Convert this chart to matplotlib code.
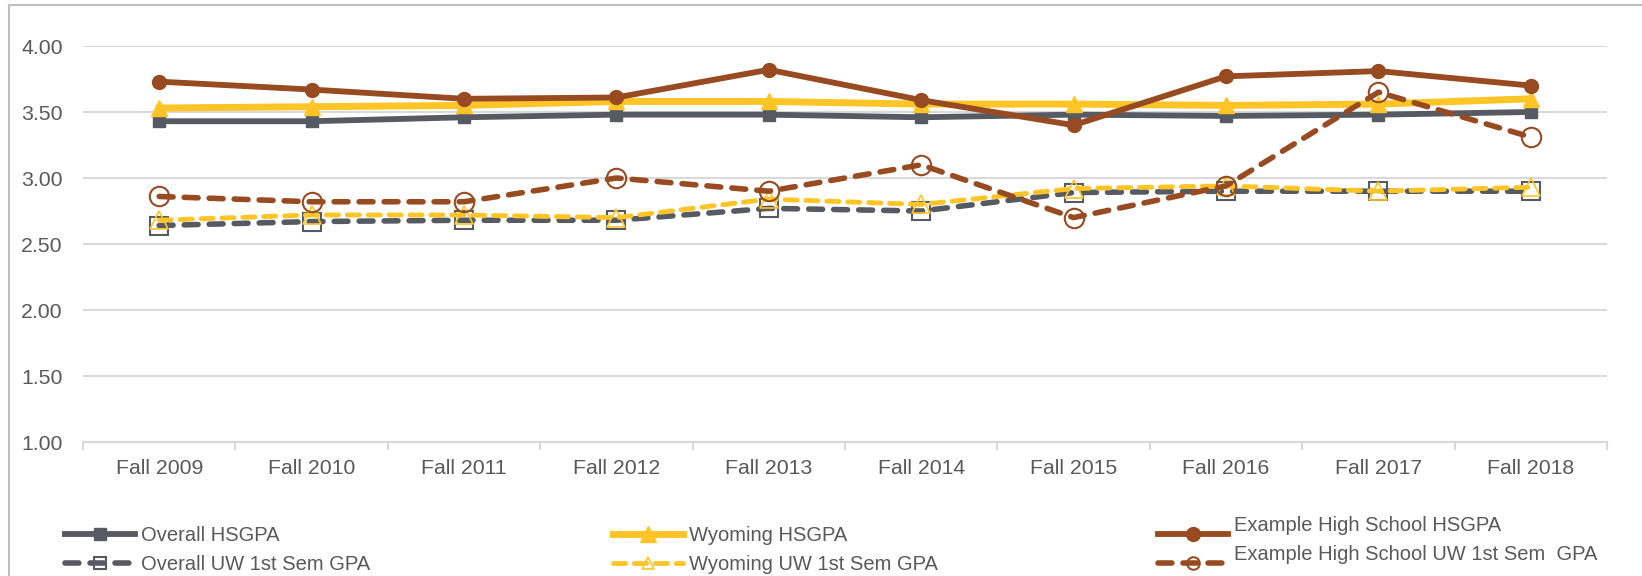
import matplotlib.pyplot as plt
import matplotlib.transforms as mtransforms
from matplotlib.lines import Line2D
import numpy as np

plt.rcParams['font.family'] = ['Liberation Sans', 'DejaVu Sans']

terms = ['Fall 2009', 'Fall 2010', 'Fall 2011', 'Fall 2012', 'Fall 2013',
         'Fall 2014', 'Fall 2015', 'Fall 2016', 'Fall 2017', 'Fall 2018']

overall_hsgpa = [3.43, 3.43, 3.46, 3.48, 3.48, 3.46, 3.48, 3.47, 3.48, 3.50]
wyoming_hsgpa = [3.53, 3.54, 3.55, 3.58, 3.58, 3.56, 3.56, 3.55, 3.56, 3.60]
example_hsgpa = [3.73, 3.67, 3.60, 3.61, 3.82, 3.59, 3.40, 3.77, 3.81, 3.70]
overall_uw = [2.64, 2.67, 2.68, 2.68, 2.77, 2.75, 2.89, 2.90, 2.90, 2.90]
wyoming_uw = [2.68, 2.72, 2.72, 2.70, 2.84, 2.80, 2.92, 2.94, 2.90, 2.93]
example_uw = [2.86, 2.82, 2.82, 3.00, 2.90, 3.10, 2.70, 2.94, 3.65, 3.31]

GRAY = '#565b63'
GOLD = '#ffc425'
BROWN = '#984a20'
TEXT = '#595959'
GRID = '#d9d9d9'

styles = [
    ('Overall HSGPA', overall_hsgpa,
     dict(color=GRAY, lw=4.2, marker='s', ms=9, mfc=GRAY, mec=GRAY)),
    ('Wyoming HSGPA', wyoming_hsgpa,
     dict(color=GOLD, lw=5, marker='^', ms=11, mfc=GOLD, mec=GOLD)),
    ('Example High School HSGPA', example_hsgpa,
     dict(color=BROWN, lw=4.2, marker='o', ms=10, mfc=BROWN, mec=BROWN)),
    ('Overall UW 1st Sem GPA', overall_uw,
     dict(color=GRAY, lw=4, ls=(0, (2.5, 2)), dash_capstyle='round',
          marker='s', ms=13, mfc='none', mec=GRAY, mew=1.5)),
    ('Wyoming UW 1st Sem GPA', wyoming_uw,
     dict(color=GOLD, lw=3.5, ls=(0, (2.5, 1.8)), dash_capstyle='round',
          marker='^', ms=13, mfc='none', mec=GOLD, mew=1.2)),
    ('Example High School UW 1st Sem  GPA', example_uw,
     dict(color=BROWN, lw=4, ls=(0, (2.5, 2)), dash_capstyle='round',
          marker='o', ms=14, mfc='none', mec=BROWN, mew=1.5)),
]

fig = plt.figure(figsize=(16.42, 5.76), dpi=100)
ax = fig.add_axes([83 / 1642, 1 - 442 / 576, (1607 - 83) / 1642, (442 - 46) / 576])

x = np.arange(len(terms))
handles = []
for label, vals, kw in styles:
    line, = ax.plot(x, vals, label=label, **kw)
    handles.append(line)

ax.set_xlim(-0.5, len(terms) - 0.5)
ax.set_ylim(1.0, 4.0)
ax.set_yticks(np.arange(1.0, 4.01, 0.5))
ax.set_yticklabels([f'{v:.2f}' for v in np.arange(1.0, 4.01, 0.5)])
ax.set_xticks(x)
ax.set_xticklabels(terms)
ax.set_xticks(np.arange(-0.5, len(terms)), minor=True)
ax.tick_params(axis='x', which='major', length=0, pad=12.5, labelsize=15.3, labelcolor=TEXT)
ax.tick_params(axis='x', which='minor', length=6, width=1.5, color=GRID, direction='out')
ax.tick_params(axis='y', length=0, pad=14.5, labelsize=15.3, labelcolor=TEXT)
ax.grid(axis='y', color=GRID, lw=1.5)
ax.set_axisbelow(True)
for side in ['top', 'right', 'left']:
    ax.spines[side].set_visible(False)
ax.spines['bottom'].set_color(GRID)
ax.spines['bottom'].set_linewidth(1.5)

# legend: three columns of two entries
cols = [(handles[0], handles[3]), (handles[1], handles[4]), (handles[2], handles[5])]
col_x = [65, 613, 1158]
for i, (cx, pair) in enumerate(zip(col_x, cols)):
    leg = fig.legend(pair, [h.get_label() for h in pair],
                     loc='upper left', bbox_to_anchor=(cx / 1642, 1 - 526 / 576),
                     frameon=False, fontsize=14.5, handlelength=3.5,
                     handletextpad=0.25, labelspacing=0.5, borderpad=0,
                     borderaxespad=0, labelcolor=TEXT)
    # the hollow markers are drawn smaller in the legend
    leg.legend_handles[1].set_markersize(9)
    if i == 2:
        shift = mtransforms.Affine2D().translate(0, 10)
        for t in leg.get_texts():
            t.set_transform(t.get_transform() + shift)

# chart area border
fig.add_artist(Line2D([9 / 1642, 1], [1 - 5 / 576, 1 - 5 / 576],
                      transform=fig.transFigure, color='#bfbfbf', lw=1.5))
fig.add_artist(Line2D([9 / 1642, 9 / 1642], [0, 1 - 5 / 576],
                      transform=fig.transFigure, color='#bfbfbf', lw=1.5))

fig.savefig('out.png', dpi=100)
